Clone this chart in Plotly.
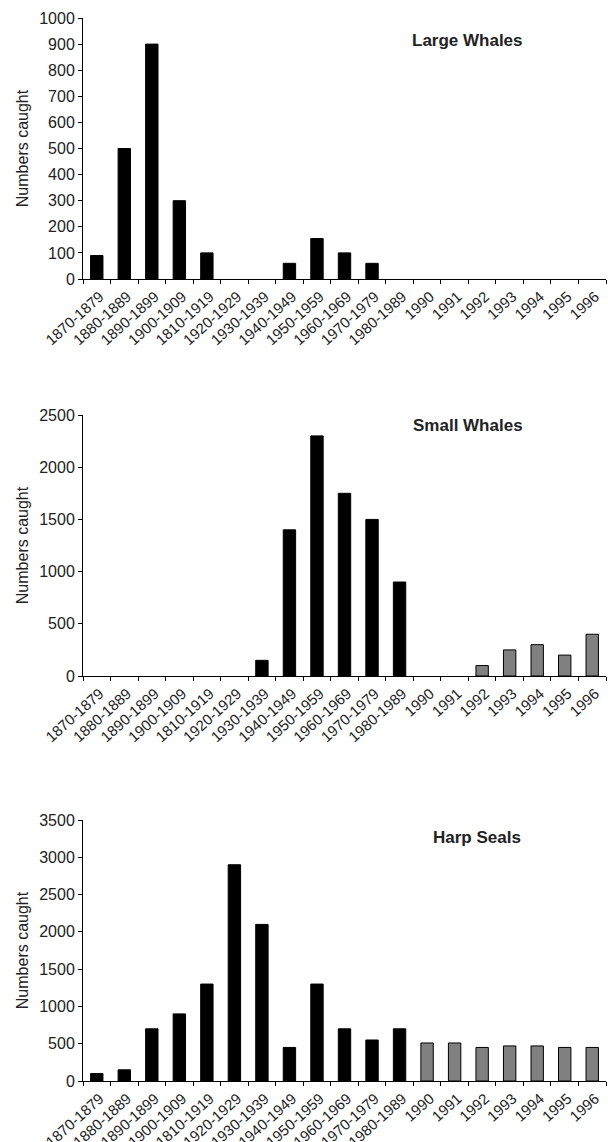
import plotly.graph_objects as go
from plotly.subplots import make_subplots

# categories on the x axis (the "1810-1919" typo is in the original chart)
periods = ['1870-1879', '1880-1889', '1890-1899', '1900-1909', '1810-1919',
           '1920-1929', '1930-1939', '1940-1949', '1950-1959', '1960-1969',
           '1970-1979', '1980-1989', '1990', '1991', '1992', '1993', '1994',
           '1995', '1996']

large_whales = [90, 500, 900, 300, 100, 0, 0, 60, 155, 100, 60, 0,
                0, 0, 0, 0, 0, 0, 0]
small_whales = [0, 0, 0, 0, 0, 0, 150, 1400, 2300, 1750, 1500, 900,
                0, 0, 100, 250, 300, 200, 400]
harp_seals = [100, 150, 700, 900, 1300, 2900, 2100, 450, 1300, 700, 550, 700,
              510, 510, 450, 470, 470, 450, 450]

panels = [
    ('Large Whales', large_whales, 1000, 100),
    ('Small Whales', small_whales, 2500, 500),
    ('Harp Seals', harp_seals, 3500, 500),
]

# decades are black, single years grey
bar_colors = ['#000000' if '-' in p else '#808080' for p in periods]

W, H = 608, 1142
# panel pixel positions (top, bottom) of the plot area
panel_px = [(18, 279), (415, 676), (820, 1081)]
title_px = [(447, 40), (448, 425), (458, 837)]

fig = make_subplots(rows=3, cols=1)

font_main = dict(family='Liberation Sans, Arial, sans-serif', size=16, color='#222222')
font_x = dict(family='Liberation Sans, Arial, sans-serif', size=15, color='#222222')

for i, (name, vals, ymax, dt) in enumerate(panels):
    r = i + 1
    # zero catches draw no bar at all in the original
    fig.add_trace(go.Bar(
        x=periods, y=[v if v else None for v in vals],
        width=0.45,
        marker=dict(color=bar_colors, line=dict(color='#000000', width=1)),
        showlegend=False,
        hoverinfo='x+y'), row=r, col=1)

    top, bot = panel_px[i]
    fig.update_yaxes(
        range=[0, ymax], dtick=dt, domain=[1 - bot / H, 1 - top / H],
        showline=True, linecolor='#000000', linewidth=1,
        ticks='outside', ticklen=4, tickcolor='#000000',
        showgrid=False, zeroline=False, automargin=False,
        tickfont=font_main,
        title=dict(text='Numbers caught', font=font_main, standoff=6),
        row=r, col=1)
    fig.update_xaxes(
        type='category', tickangle=-42, tickson='boundaries',
        showline=True, linecolor='#000000', linewidth=1,
        ticks='outside', ticklen=4, tickcolor='#000000',
        ticklabelstandoff=2, ticklabelshift=3,
        showgrid=False, automargin=False, tickfont=font_x,
        row=r, col=1)

    tx, ty = title_px[i]
    fig.add_annotation(
        text='<b>' + name + '</b>', x=tx / W, y=1 - ty / H,
        xref='paper', yref='paper', showarrow=False,
        xanchor='center', yanchor='middle',
        font=dict(family='Liberation Sans, Arial, sans-serif', size=17, color='#222222'))

fig.update_layout(
    width=W, height=H,
    margin=dict(t=0, b=0, l=83, r=2),
    paper_bgcolor='white', plot_bgcolor='white',
    bargap=0.55,
    font=font_main)

# drop the page's default body margin so the figure fills the window
fig.write_html("out.html", config={'displayModeBar': False},
               post_script="document.body.style.margin='0';")
